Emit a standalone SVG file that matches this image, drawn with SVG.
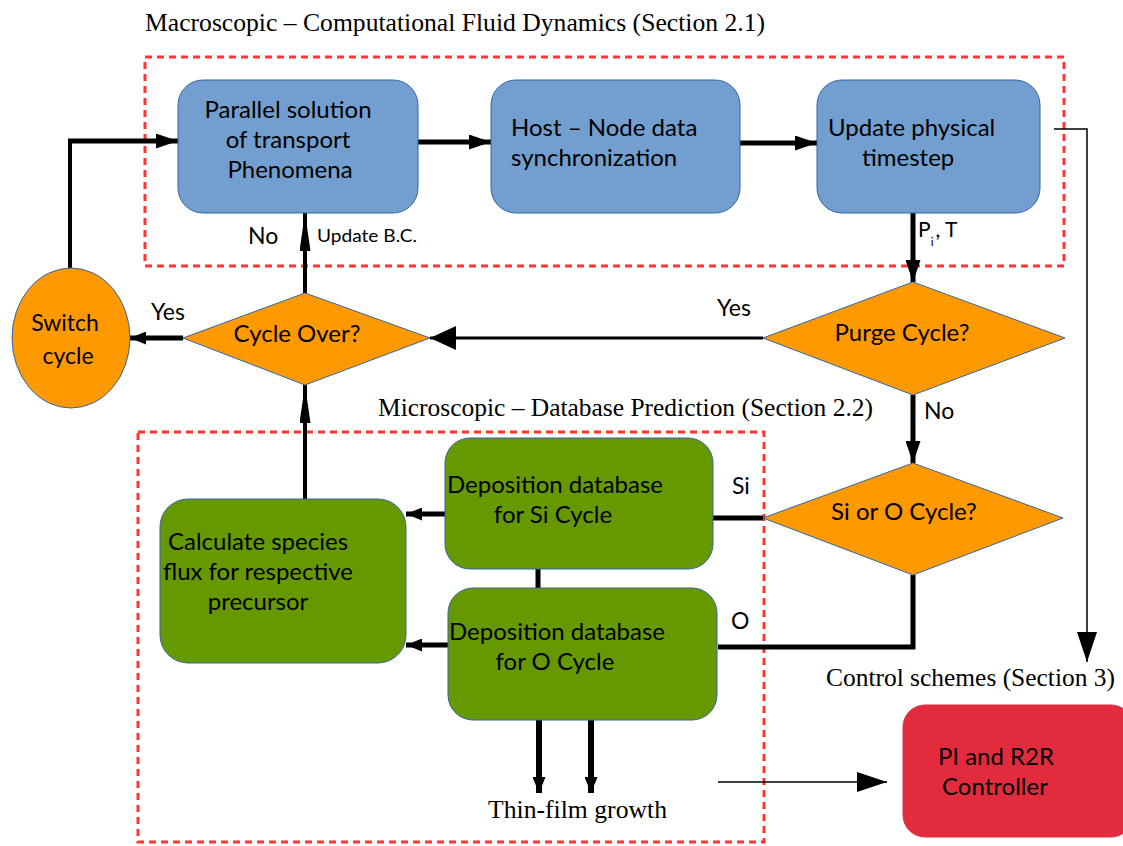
<svg xmlns="http://www.w3.org/2000/svg" width="1123" height="846" viewBox="0 0 1123 846">
<style>
.t{font-family:Lato,"Liberation Sans",sans-serif;font-size:24px;fill:#000}
.l{font-size:23px}
.s{font-family:"Liberation Serif",serif;font-size:26px;fill:#000}
.blue{fill:#729fcf;stroke:#3465a4;stroke-width:1}
.green{fill:#669900;stroke:#3465a4;stroke-width:1}
.orange{fill:#ff9900;stroke:#3465a4;stroke-width:1}
.red{fill:#e32b3e;stroke:#e32b3e;stroke-width:1}
.dash{fill:none;stroke:#ff3333;stroke-width:3;stroke-dasharray:7 5}
.c{fill:none;stroke:#000;stroke-width:5}
.thin{fill:none;stroke:#000;stroke-width:1.5}
</style>
<defs>
<marker id="ah" markerUnits="userSpaceOnUse" markerWidth="22" markerHeight="15" refX="22" refY="7.5" orient="auto"><path d="M0,0 L22,7.5 L0,15 z" fill="#000"/></marker>
<marker id="an" markerUnits="userSpaceOnUse" markerWidth="38" markerHeight="11" refX="38" refY="5.5" orient="auto"><path d="M0,0 L38,5.5 L0,11 z" fill="#000"/></marker>
<marker id="as" markerUnits="userSpaceOnUse" markerWidth="16" markerHeight="13" refX="16" refY="6.5" orient="auto"><path d="M0,0 L16,6.5 L0,13 z" fill="#000"/></marker>
<marker id="ab" markerUnits="userSpaceOnUse" markerWidth="26" markerHeight="24" refX="26" refY="12" orient="auto"><path d="M0,0 L26,12 L0,24 z" fill="#000"/></marker>
<marker id="at" markerUnits="userSpaceOnUse" markerWidth="30" markerHeight="20" refX="30" refY="10" orient="auto"><path d="M0,0 L30,10 L0,20 z" fill="#000"/></marker>
</defs>
<rect width="1123" height="846" fill="#fff"/>

<g id="regions">
<rect class="dash" x="145" y="57" width="919" height="209"/>
<rect class="dash" x="138" y="432" width="626" height="410"/>
<text class="s" x="145" y="31" textLength="620" lengthAdjust="spacingAndGlyphs">Macroscopic – Computational Fluid Dynamics (Section 2.1)</text>
<text class="s" x="378" y="416" textLength="495" lengthAdjust="spacingAndGlyphs">Microscopic – Database Prediction (Section 2.2)</text>
<text class="s" x="826" y="686" textLength="289" lengthAdjust="spacingAndGlyphs">Control schemes (Section 3)</text>
<text class="s" x="488" y="818" textLength="179" lengthAdjust="spacingAndGlyphs">Thin-film growth</text>
</g>

<g id="connectors">
<path class="c" d="M70,268 V139" style="stroke-width:4px"/>
<path class="c" d="M68,141 H178" marker-end="url(#ah)"/>
<path class="c" d="M418,142 H491" marker-end="url(#ah)"/>
<path class="c" d="M740,143 H817" marker-end="url(#ah)"/>
<path class="c" d="M913,213 V282" marker-end="url(#ah)"/>
<path class="c" d="M763,338 H430" style="stroke-width:3px" marker-end="url(#ab)"/>
<path class="c" d="M183,338 H130" marker-end="url(#as)"/>
<path class="c" d="M305,293 V213" style="stroke-width:4px" marker-end="url(#an)"/>
<path class="c" d="M305,499 V385" style="stroke-width:4px" marker-end="url(#an)"/>
<path class="c" d="M913,395 V463" marker-end="url(#ah)"/>
<path class="c" d="M763,518 H713"/>
<path class="c" d="M913,575 V647 H718"/>
<path class="c" d="M445,514 H406" marker-end="url(#as)"/>
<path class="c" d="M448,645 H406" marker-end="url(#as)"/>
<path class="c" d="M538,569 V588"/>
<path class="c" d="M539,720 V793" style="stroke-width:6px" marker-end="url(#as)"/>
<path class="c" d="M591,720 V793" style="stroke-width:6px" marker-end="url(#as)"/>
<path class="thin" d="M1054,129 H1087 V662" marker-end="url(#at)"/>
<path class="thin" d="M718,782 H887" marker-end="url(#at)"/>
<text class="t l" x="248" y="244">No</text>
<text class="t" x="317" y="242" style="font-size:17px" textLength="100" lengthAdjust="spacingAndGlyphs">Update B.C.</text>
<text class="t" x="918" y="237" style="font-size:21px">P<tspan style="font-size:12px" dx="0" dy="9">i</tspan><tspan style="font-size:21px" dx="2" dy="-9">, T</tspan></text>
<text class="t l" x="151" y="320">Yes</text>
<text class="t l" x="717" y="316">Yes</text>
<text class="t l" x="924" y="419">No</text>
<text class="t l" x="732" y="494">Si</text>
<text class="t l" x="731" y="629">O</text>
</g>

<g id="n-parallel">
<rect class="blue" x="178" y="80" width="240" height="133" rx="25"/>
<text class="t" text-anchor="middle" x="288" y="118">Parallel solution</text>
<text class="t" text-anchor="middle" x="288" y="148">of transport</text>
<text class="t" text-anchor="middle" x="290" y="178">Phenomena</text>
</g>
<g id="n-host">
<rect class="blue" x="491" y="80" width="249" height="133" rx="25"/>
<text class="t" x="511" y="136">Host – Node data</text>
<text class="t" x="511" y="166">synchronization</text>
</g>
<g id="n-update">
<rect class="blue" x="817" y="80" width="223" height="133" rx="25"/>
<text class="t" x="828" y="136">Update physical</text>
<text class="t" x="862" y="166">timestep</text>
</g>
<g id="n-switch">
<ellipse class="orange" cx="71" cy="338" rx="59" ry="70"/>
<text class="t" text-anchor="middle" x="65" y="331" style="font-size:23px">Switch</text>
<text class="t" text-anchor="middle" x="68" y="364" style="font-size:23px">cycle</text>
</g>
<g id="n-cycleover">
<polygon class="orange" points="183,338 305,293 430,338 305,385"/>
<text class="t" text-anchor="middle" x="297" y="342">Cycle Over?</text>
</g>
<g id="n-purge">
<polygon class="orange" points="763,338 913,282 1065,338 913,395"/>
<text class="t" text-anchor="middle" x="902" y="341">Purge Cycle?</text>
</g>
<g id="n-sio">
<polygon class="orange" points="763,518 913,463 1063,518 913,575"/>
<text class="t" text-anchor="middle" x="904" y="520">Si or O Cycle?</text>
</g>
<g id="n-depsi">
<rect class="green" x="445" y="438" width="268" height="131" rx="25"/>
<text class="t" text-anchor="middle" x="555" y="493">Deposition database</text>
<text class="t" text-anchor="middle" x="553" y="523">for Si Cycle</text>
</g>
<g id="n-depo">
<rect class="green" x="448" y="588" width="269" height="132" rx="25"/>
<text class="t" text-anchor="middle" x="557" y="640">Deposition database</text>
<text class="t" text-anchor="middle" x="555" y="670">for O Cycle</text>
</g>
<g id="n-calc">
<rect class="green" x="160" y="499" width="246" height="164" rx="28"/>
<text class="t" text-anchor="middle" x="258" y="550">Calculate species</text>
<text class="t" text-anchor="middle" x="258" y="580">flux for respective</text>
<text class="t" text-anchor="middle" x="258" y="610">precursor</text>
</g>
<g id="n-pi">
<rect class="red" x="903" y="705" width="230" height="132" rx="22"/>
<text class="t" text-anchor="middle" x="996" y="765">PI and R2R</text>
<text class="t" text-anchor="middle" x="995" y="795">Controller</text>
</g>
</svg>
